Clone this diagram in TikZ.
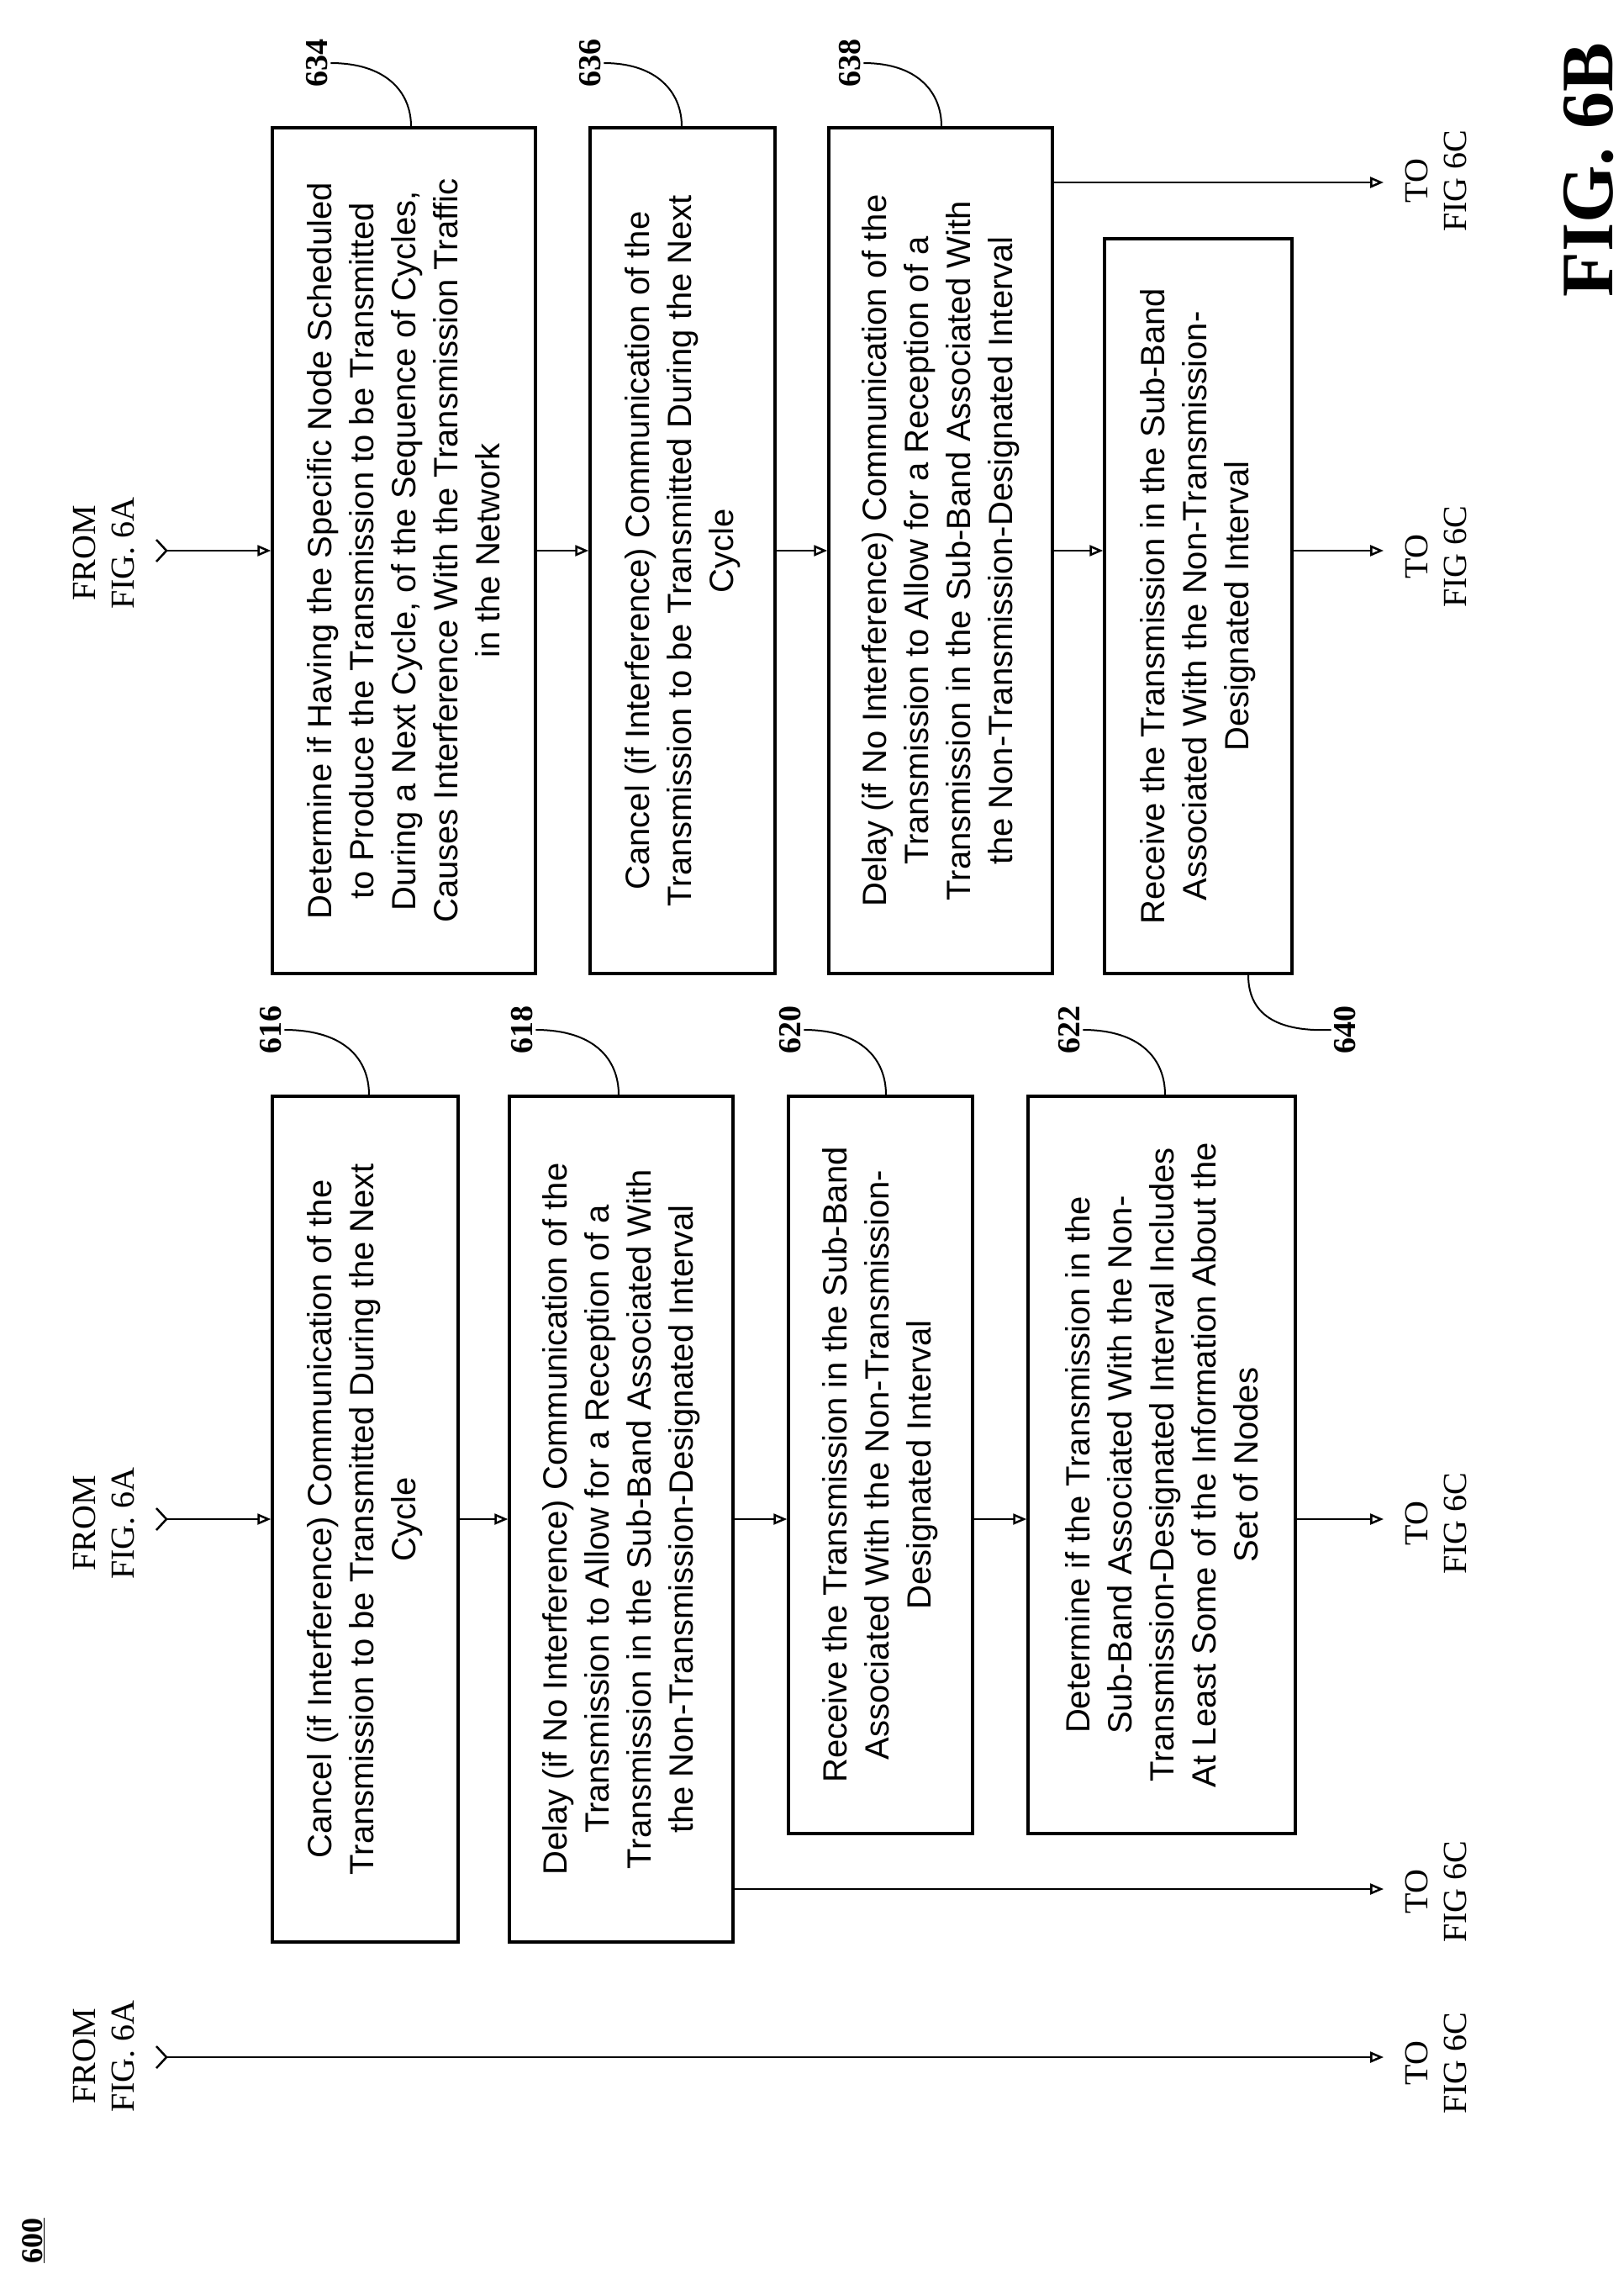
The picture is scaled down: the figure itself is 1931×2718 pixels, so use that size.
\documentclass[tikz,border=0pt]{standalone}
\usepackage{fontspec}
\setmainfont{Liberation Serif}
\newfontfamily\boxfont{Liberation Sans}
\usetikzlibrary{arrows.meta,calc}
\begin{document}
\begin{tikzpicture}[x=1pt,y=-1pt,
  box/.style={draw,line width=3.5pt,rotate=90,align=center,inner sep=0pt,
    font=\boxfont\fontsize{40}{50}\selectfont},
  lbl/.style={rotate=90,align=center,font=\fontsize{40}{46}\selectfont},
  num/.style={rotate=90,font=\bfseries\fontsize{38}{40}\selectfont},
  flow/.style={line width=2.5pt,-{Triangle[open,length=16pt,width=13pt]}},
  tail/.style={line width=2.5pt},
  lead/.style={line width=2pt}]
\useasboundingbox (0,0) rectangle (1931,2718);
% boxes column 3
\node[box,minimum width=1006pt,minimum height=313pt] (b634) at (480.5,655) {Determine if Having the Specific Node Scheduled\\to Produce the Transmission to be Transmitted\\During a Next Cycle, of the Sequence of Cycles,\\Causes Interference With the Transmission Traffic\\in the Network};
\node[box,minimum width=1006pt,minimum height=220pt] (b636) at (812,655) {Cancel (if Interference) Communication of the\\Transmission to be Transmitted During the Next\\Cycle};
\node[box,minimum width=1006pt,minimum height=266pt] (b638) at (1119,655) {Delay (if No Interference) Communication of the\\Transmission to Allow for a Reception of a\\Transmission in the Sub-Band Associated With\\the Non-Transmission-Designated Interval};
\node[box,minimum width=874pt,minimum height=223pt] (b640) at (1425.5,721) {Receive the Transmission in the Sub-Band\\Associated With the Non-Transmission-\\Designated Interval};
% boxes column 2
\node[box,minimum width=1006pt,minimum height=221pt] (b616) at (434.5,1807) {Cancel (if Interference) Communication of the\\Transmission to be Transmitted During the Next\\Cycle};
\node[box,minimum width=1006pt,minimum height=266pt] (b618) at (739,1807) {Delay (if No Interference) Communication of the\\Transmission to Allow for a Reception of a\\Transmission in the Sub-Band Associated With\\the Non-Transmission-Designated Interval};
\node[box,minimum width=877pt,minimum height=219pt] (b620) at (1047.5,1742.5) {Receive the Transmission in the Sub-Band\\Associated With the Non-Transmission-\\Designated Interval};
\node[box,minimum width=877pt,minimum height=318pt] (b622) at (1382,1742.5) {Determine if the Transmission in the\\Sub-Band Associated With the Non-\\Transmission-Designated Interval Includes\\At Least Some of the Information About the\\Set of Nodes};
% FROM / TO labels
\node[lbl] (f3) at (124,658) {FROM\\FIG. 6A};
\node[lbl] (f2) at (124,1812) {FROM\\FIG. 6A};
\node[lbl] (f1) at (124,2446) {FROM\\FIG. 6A};
\node[lbl] (t3a) at (1708,215) {TO\\FIG 6C};
\node[lbl] (t3) at (1708,662) {TO\\FIG 6C};
\node[lbl] (t2a) at (1708,2250) {TO\\FIG 6C};
\node[lbl] (t2) at (1708,1812) {TO\\FIG 6C};
\node[lbl] (t1) at (1708,2454) {TO\\FIG 6C};
% arrow end coordinates
\coordinate (s3) at (198,655); \coordinate (e3) at (1646,655);
\coordinate (s2) at (198,1807); \coordinate (e2) at (1646,1807);
\coordinate (s1) at (198,2447); \coordinate (e1) at (1646,2447);
\coordinate (e3a) at (1646,217); \coordinate (e2a) at (1646,2247);
% tails
\foreach \c in {s1,s2,s3} \draw[tail] ($(\c)+(-12,-13)$) -- (\c) -- ($(\c)+(-12,13)$);
% flows column 3
\draw[flow] (s3) -- (b634.north);
\draw[flow] (b634.south) -- (b636.north);
\draw[flow] (b636.south) -- (b638.north);
\draw[flow] (b638.south) -- (b638.south -| b640.north);
\draw[flow] (b638.south -| b640.south) -- (e3);
\draw[flow] (b638.south |- e3a) -- (e3a);
% flows column 2
\draw[flow] (s2) -- (b616.north);
\draw[flow] (b616.south) -- (b618.north);
\draw[flow] (b618.south) -- (b618.south -| b620.north);
\draw[flow] (b618.south -| b620.south) -- (b618.south -| b622.north);
\draw[flow] (b618.south -| b622.south) -- (e2);
\draw[flow] (b618.south |- e2a) -- (e2a);
% column 1
\draw[flow] (s1) -- (e1);
% reference numbers
\node[num] (n634) at (377,75) {634};
\node[num] (n636) at (702,75) {636};
\node[num] (n638) at (1011,75) {638};
\node[num] (n640) at (1600,1225) {640};
\node[num] (n616) at (322,1225) {616};
\node[num] (n618) at (621,1225) {618};
\node[num] (n620) at (940,1225) {620};
\node[num] (n622) at (1272,1225) {622};
\draw[lead] (n634.south) .. controls (460,75) and (489,110) .. (b634.east -| 489,0);
\draw[lead] (n636.south) .. controls (782,75) and (811,110) .. (b636.east -| 811,0);
\draw[lead] (n638.south) .. controls (1092,75) and (1120,110) .. (b638.east -| 1120,0);
\draw[lead] (n616.south) .. controls (410,1225) and (439,1260) .. (b616.east -| 439,0);
\draw[lead] (n618.south) .. controls (707,1225) and (736,1260) .. (b618.east -| 736,0);
\draw[lead] (n620.south) .. controls (1025,1225) and (1054,1260) .. (b620.east -| 1054,0);
\draw[lead] (n622.south) .. controls (1357,1225) and (1386,1260) .. (b622.east -| 1386,0);
\draw[lead] (b640.west -| 1485,0) .. controls (1485,1200) and (1510,1228) .. (n640.north);
% figure labels
\node[rotate=90,font=\bfseries\fontsize{88}{90}\selectfont] (fig) at (1890,202) {FIG. 6B};
\node[rotate=90,font=\bfseries\fontsize{36}{38}\selectfont] (n600) at (40,2665) {\underline{600}};
\end{tikzpicture}
\end{document}
